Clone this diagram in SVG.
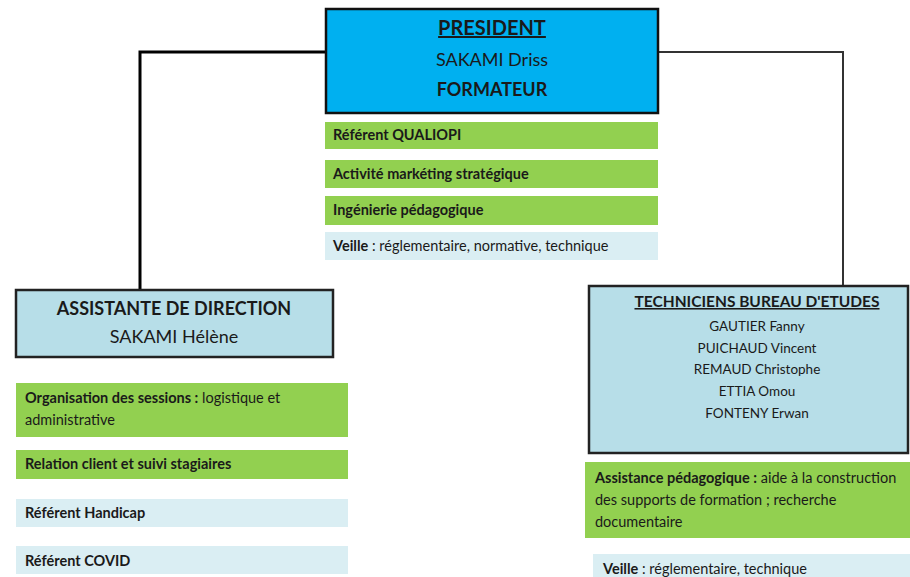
<svg xmlns="http://www.w3.org/2000/svg" width="910" height="577" viewBox="0 0 910 577">
<style>
text{font-family:Lato,"Liberation Sans",sans-serif;fill:#1a1a1a}
.b{font-weight:bold}
.c{text-anchor:middle}
.t{font-size:14.5px}
.g{fill:#92D050}
.l{fill:#DAEEF3}
.box{fill:#B7DEE8;stroke:#222;stroke-width:2.5}
.u{text-decoration:underline}
</style>
<rect width="910" height="577" fill="#fff"/>
<g id="connectors" fill="none">
<polyline points="325,52 140,52 140,289" stroke="#000" stroke-width="3"/>
<polyline points="659,52 843,52 843,285" stroke="#333" stroke-width="2"/>
</g>
<g id="president">
<rect x="326" y="9" width="332" height="104" fill="#00B0F0" stroke="#111" stroke-width="2.5"/>
<text x="492" y="35" class="b c u" font-size="20">PRESIDENT</text>
<text x="492" y="66" class="c" font-size="18">SAKAMI Driss</text>
<text x="492" y="96" class="b c" font-size="18">FORMATEUR</text>
</g>
<g id="president-tasks">
<rect x="325" y="122" width="333" height="27" class="g"/>
<text x="333" y="140" class="b t">Référent QUALIOPI</text>
<rect x="325" y="160" width="333" height="28" class="g"/>
<text x="333" y="179" class="b t">Activité markéting stratégique</text>
<rect x="325" y="196" width="333" height="29" class="g"/>
<text x="333" y="215" class="b t">Ingénierie pédagogique</text>
<rect x="325" y="232" width="333" height="28" class="l"/>
<text x="333" y="251" class="t"><tspan class="b">Veille</tspan> : réglementaire, normative, technique</text>
</g>
<g id="assistante">
<rect x="16" y="290" width="317" height="67" class="box"/>
<text x="174" y="315" class="b c" font-size="18">ASSISTANTE DE DIRECTION</text>
<text x="174" y="343" class="c" font-size="18">SAKAMI Hélène</text>
</g>
<g id="assistante-tasks">
<rect x="16" y="383" width="332" height="54" class="g"/>
<text x="25" y="403" class="t"><tspan class="b">Organisation des sessions :</tspan> logistique et</text>
<text x="25" y="425" class="t">administrative</text>
<rect x="16" y="450" width="332" height="29" class="g"/>
<text x="25" y="469" class="b t">Relation client et suivi stagiaires</text>
<rect x="16" y="499" width="332" height="28" class="l"/>
<text x="25" y="518" class="b t">Référent Handicap</text>
<rect x="16" y="546" width="332" height="28" class="l"/>
<text x="25" y="566" class="b t">Référent COVID</text>
</g>
<g id="techniciens">
<rect x="589" y="286" width="319" height="167" class="box"/>
<text x="757" y="307" class="b c u" font-size="15.5">TECHNICIENS BUREAU D'ETUDES</text>
<text x="757" y="331" class="c" font-size="13.5">GAUTIER Fanny</text>
<text x="757" y="353" class="c" font-size="13.5">PUICHAUD Vincent</text>
<text x="757" y="374" class="c" font-size="13.5">REMAUD Christophe</text>
<text x="757" y="396" class="c" font-size="13.5">ETTIA Omou</text>
<text x="757" y="418" class="c" font-size="13.5">FONTENY Erwan</text>
</g>
<g id="techniciens-tasks">
<rect x="585" y="462" width="325" height="76" class="g"/>
<text x="595" y="483" class="t"><tspan class="b">Assistance pédagogique :</tspan> aide à la construction</text>
<text x="595" y="505" class="t">des supports de formation ; recherche</text>
<text x="595" y="527" class="t">documentaire</text>
<rect x="593" y="554" width="317" height="23" class="l"/>
<text x="603" y="574" class="t"><tspan class="b">Veille</tspan> : réglementaire, technique</text>
</g>
</svg>
